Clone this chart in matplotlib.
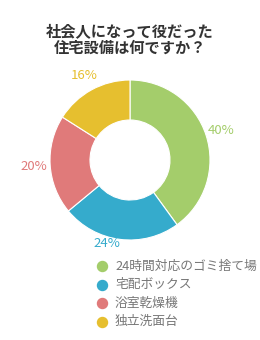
import matplotlib
matplotlib.use("Agg")
from matplotlib import pyplot as plt

plt.rcParams['font.family'] = ['Noto Sans CJK JP', 'DejaVu Sans']

# data
categories = ['24時間対応のゴミ捨て場', '宅配ボックス', '浴室乾燥機', '独立洗面台']
values = [40, 24, 20, 16]
colors = ['#a4cd6b', '#35abcc', '#e07a7a', '#e6bf2f']
title = '社会人になって役だった\n住宅設備は何ですか？'

fig = plt.figure(figsize=(2.6, 3.4), dpi=100)
ax = fig.add_axes([0, 0, 1, 1])

wedges, texts = ax.pie(values, colors=colors, startangle=90, counterclock=False,
                       center=(130, 180), radius=80,
                       labels=[f'{v}%' for v in values], labeldistance=1.2,
                       wedgeprops=dict(width=40, edgecolor='white', linewidth=0.8),
                       textprops=dict(fontsize=9.5))
ax.set_xlim(0, 260); ax.set_ylim(0, 340)
ax.set_aspect('auto')
ax.axis('off')
for t, c in zip(texts, colors):
    t.set_color(c); t.set_ha('center'); t.set_va('center')
# 24% label sits a bit up-left in the original
x, y = texts[1].get_position()
texts[1].set_position((x - 11, y + 12))

fig.text(0.5, 1 - 39/340, title, ha='center', va='center', fontsize=11,
         fontweight='bold', color='#333333', linespacing=1.05)

# legend
for i, (lab, c) in enumerate(zip(categories, colors)):
    yy = 340 - (266 + 18.5*i)
    ax.scatter([102], [yy], s=52, color=c, zorder=3)
    ax.text(115, yy, lab, ha='left', va='center', fontsize=9.2, color='#777777')

fig.savefig('out.png', dpi=100)
